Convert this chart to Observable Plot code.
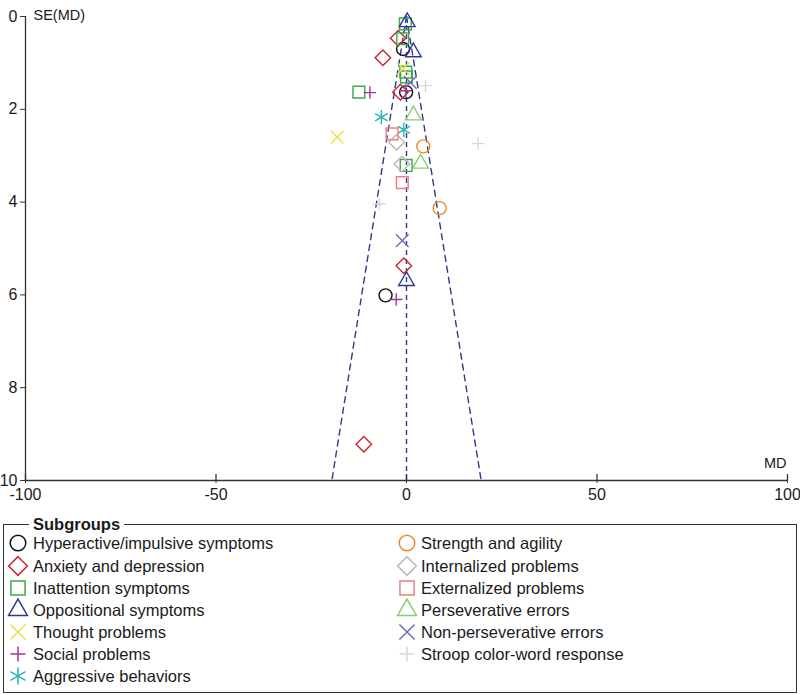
<!DOCTYPE html>
<html>
<head>
<meta charset="utf-8">
<script src="https://cdn.jsdelivr.net/npm/d3@7"></script>
<script src="https://cdn.jsdelivr.net/npm/@observablehq/plot@0.6"></script>
<style>
  body { margin: 0; background: #fff; font-family: "Liberation Sans", Arial, sans-serif; }
  #wrap { position: relative; width: 800px; height: 695px; overflow: hidden; }
  #chart { position: absolute; left: 0; top: 0; }
  #legendBox { position: absolute; left: 3px; top: 524px; width: 794px; height: 169px; border: 1px solid #333; box-sizing: border-box; }
  #legendTitle { position: absolute; left: 29px; top: 514px; padding: 0 4px; background: #fff; font-weight: bold; font-size: 16.5px; color: #1a1a1a; line-height: 20px; }
  .item { position: absolute; height: 22px; display: flex; align-items: center; font-size: 16.5px; color: #1a1a1a; white-space: nowrap; }
  .item svg { position: absolute; overflow: visible; }
</style>
</head>
<body>
<div id="wrap">
  <div id="chart"></div>
  <div id="legendBox"></div>
  <div id="legendTitle">Subgroups</div>
  <div id="legendItems"></div>
</div>
<script>
// ---- data ----
const subgroups = [
  "Hyperactive/impulsive symptoms", "Anxiety and depression", "Inattention symptoms",
  "Oppositional symptoms", "Thought problems", "Social problems", "Aggressive behaviors",
  "Strength and agility", "Internalized problems", "Externalized problems",
  "Perseverative errors", "Non-perseverative errors", "Stroop color-word response"
];
const hyperactiveMD = [-0.9, -0.1, -5.5];           const hyperactiveSE = [0.70, 1.63, 6.01];
const anxietyMD = [-6.2, -2.2, -1.6, -0.7, -11.2];   const anxietySE = [0.89, 0.47, 1.63, 5.37, 9.22];
const inattentionMD = [-0.3, -1.0, -0.2, 0.0, -12.5, -0.1]; const inattentionSE = [0.16, 0.48, 1.20, 1.30, 1.63, 3.21];
const oppositionalMD = [0.2, 1.8, 0.0];              const oppositionalSE = [0.12, 0.77, 5.70];
const thoughtMD = [-18.2, -0.9];                     const thoughtSE = [2.60, 1.12];
const socialMD = [-9.6, -0.2, -2.7];                 const socialSE = [1.64, 1.60, 6.10];
const aggressiveMD = [-6.6, -0.7];                   const aggressiveSE = [2.17, 2.44];
const strengthMD = [4.4, 8.7];                       const strengthSE = [2.80, 4.13];
const internalizedMD = [-2.6, -1.2];                 const internalizedSE = [2.71, 3.18];
const externalizedMD = [-3.8, -1.1];                 const externalizedSE = [2.53, 3.58];
const perseverativeMD = [1.8, 3.7];                  const perseverativeSE = [2.13, 3.17];
const nonPerseverativeMD = [-1.1, 1.0];              const nonPerseverativeSE = [4.83, 1.42];
const stroopMD = [5.0, 18.8, -7.1];                  const stroopSE = [1.49, 2.74, 4.04];

// funnel outline: [MD, SE]
const funnelLeft = [[0, 0], [-19.6, 10]];
const funnelRight = [[0, 0], [19.6, 10]];
const centerMD = [0];

const xTicks = [-100, -50, 0, 50, 100];
const yTicks = [0, 2, 4, 6, 8, 10];

// ---- styles ----
const colors = ["#111111", "#c8282f", "#3aaa48", "#2b3a94", "#e6e43a", "#9a3a96", "#27b6b4",
                "#ee8a2e", "#b9b9b9", "#ef7e82", "#8ccb70", "#6c6cb4", "#d6d6de"];
const symbols = ["circle", "diamond2", "square2", "triangle2", "times", "plus", "asterisk",
                 "circle", "diamond2", "square2", "triangle2", "times", "plus"];
const d3Symbols = {circle: d3.symbolCircle, diamond2: d3.symbolDiamond2, square2: d3.symbolSquare2,
                   triangle2: d3.symbolTriangle2, times: d3.symbolTimes, plus: d3.symbolPlus, asterisk: d3.symbolAsterisk};
const symR = {circle: 6.5, diamond2: 7, square2: 7.5, triangle2: 7.5, times: 5.8, plus: 4.1, asterisk: 6.8};

const mdArrays = [hyperactiveMD, anxietyMD, inattentionMD, oppositionalMD, thoughtMD, socialMD, aggressiveMD,
                  strengthMD, internalizedMD, externalizedMD, perseverativeMD, nonPerseverativeMD, stroopMD];
const seArrays = [hyperactiveSE, anxietySE, inattentionSE, oppositionalSE, thoughtSE, socialSE, aggressiveSE,
                  strengthSE, internalizedSE, externalizedSE, perseverativeSE, nonPerseverativeSE, stroopSE];

const rows = subgroups.flatMap((g, i) => mdArrays[i].map((md, j) => ({group: g, md, se: seArrays[i][j]})));

const dashStyle = {stroke: "#2b3990", strokeWidth: 1.4, strokeDasharray: "6,5"};

const dotMarks = subgroups.map((g, i) =>
  Plot.dot(rows.filter(d => d.group === g), {
    x: "md", y: "se", symbol: symbols[i], stroke: colors[i], r: symR[symbols[i]],
    fill: "none", strokeWidth: 1.4
  })
);

const chart = Plot.plot({
  width: 800,
  height: 500,
  marginLeft: 25,
  marginRight: 13,
  marginTop: 16,
  marginBottom: 20,
  style: {fontFamily: "'Liberation Sans', Arial, sans-serif", color: "#1a1a1a", background: "#fff", overflow: "visible"},
  x: {domain: [-100, 100], axis: null},
  y: {domain: [0, 10], reverse: true, axis: null},
  marks: [
    Plot.line(funnelLeft, {x: d => d[0], y: d => d[1], ...dashStyle}),
    Plot.line(funnelRight, {x: d => d[0], y: d => d[1], ...dashStyle}),
    Plot.ruleX(centerMD, {y1: 0, y2: 10, ...dashStyle, strokeDasharray: "5,4"}),
    ...dotMarks,
    // axes
    Plot.ruleX([-100], {y1: 0, y2: 10, stroke: "#333", strokeWidth: 1.3}),
    Plot.ruleY([10], {x1: -100, x2: 100, stroke: "#333", strokeWidth: 1.3}),
    Plot.axisY({ticks: yTicks, tickSize: 5, tickPadding: 3, fontSize: 16, label: null, stroke: "#333", tickFormat: d => String(d)}),
    Plot.axisX({ticks: xTicks, tickSize: 3, tickPadding: 5, fontSize: 16, label: null, stroke: "#333", tickFormat: d => String(d)}),
    Plot.ruleX(xTicks, {y1: 10, y2: 9.87, stroke: "#333", strokeWidth: 1.3}),
    Plot.text(["SE(MD)"], {frameAnchor: "top-left", dx: 8, dy: -7, textAnchor: "start", fontSize: 14.5, fill: "#1a1a1a"}),
    Plot.text(["MD"], {frameAnchor: "bottom-right", dx: -1, dy: -13, textAnchor: "end", fontSize: 14.5, fill: "#1a1a1a"})
  ]
});
document.getElementById("chart").appendChild(chart);

// ---- legend ----
const items = document.getElementById("legendItems");
const rowY = [543, 566, 588, 610, 632, 654, 676];
subgroups.forEach((g, i) => {
  const col = i < 7 ? 0 : 1;
  const r = i < 7 ? i : i - 7;
  const symX = col === 0 ? 18 : 407;
  const textX = col === 0 ? 33 : 421;
  const div = document.createElement("div");
  div.className = "item";
  div.style.left = textX + "px";
  div.style.top = (rowY[r] - 11) + "px";
  div.textContent = g;
  const svg = d3.create("svg").attr("width", 1).attr("height", 1)
    .style("left", (symX - textX) + "px").style("top", "11px");
  const rr = symR[symbols[i]] * 1.2;
  svg.append("path")
    .attr("d", d3.symbol(d3Symbols[symbols[i]], Math.PI * rr * rr)())
    .attr("fill", "none").attr("stroke", colors[i]).attr("stroke-width", 1.5);
  div.appendChild(svg.node());
  items.appendChild(div);
});
</script>
</body>
</html>
